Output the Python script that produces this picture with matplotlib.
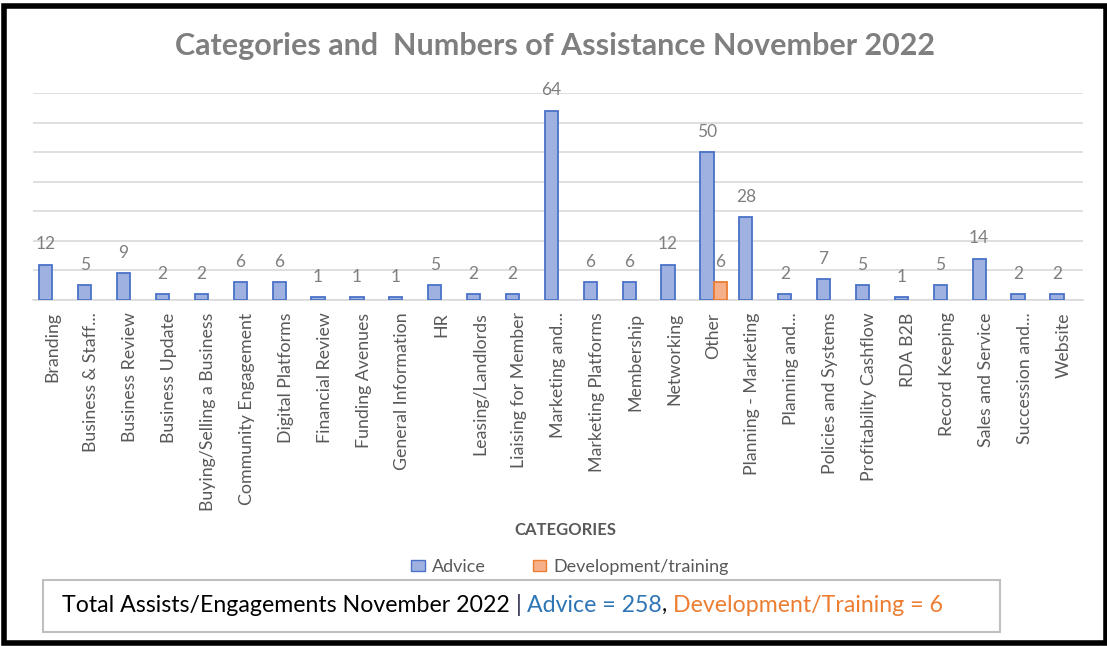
import matplotlib
matplotlib.use("Agg")
import matplotlib.pyplot as plt
import numpy as np
from matplotlib.patches import Rectangle, Patch

plt.rcParams['font.family'] = ['Lato', 'DejaVu Sans']

categories = ["Branding", "Business & Staff...", "Business Review", "Business Update",
              "Buying/Selling a Business", "Community Engagement", "Digital Platforms",
              "Financial Review", "Funding Avenues", "General Information", "HR",
              "Leasing/Landlords", "Liaising for Member", "Marketing and...",
              "Marketing Platforms", "Membership", "Networking", "Other",
              "Planning - Marketing", "Planning and...", "Policies and Systems",
              "Profitability Cashflow", "RDA B2B", "Record Keeping", "Sales and Service",
              "Succession and...", "Website"]
advice = [12, 5, 9, 2, 2, 6, 6, 1, 1, 1, 5, 2, 2, 64, 6, 6, 12, 50, 28, 2, 7, 5, 1, 5, 14, 2, 2]
development = [0, 0, 0, 0, 0, 0, 0, 0, 0, 0, 0, 0, 0, 0, 0, 0, 0, 6, 0, 0, 0, 0, 0, 0, 0, 0, 0]
series_names = ["Advice", "Development/training"]
title = "Categories and  Numbers of Assistance November 2022"
summary = [("Total Assists/Engagements November 2022 ", "black"),
           ("| ", "#2b2b4b"),
           ("Advice = 258", "#2E75B6"),
           (", ", "black"),
           ("Development/Training = 6", "#ED7D31")]

W, H = 1107, 646
fig = plt.figure(figsize=(W / 100, H / 100), dpi=100)
fig.patch.set_facecolor("white")

ax = fig.add_axes([33 / W, 1 - 300 / H, (1083 - 33) / W, (300 - 93) / H])
x = np.arange(len(categories))
w = 0.34
adv_fill, adv_edge = "#9fb1e0", "#4a72c8"
dev_fill, dev_edge = "#f5b089", "#ed7d31"
b1 = ax.bar(x - w / 2, advice, w, color=adv_fill, edgecolor=adv_edge, linewidth=1.3, zorder=3)
dev = np.array(development)
mask = dev > 0
b2 = ax.bar((x + w / 2)[mask], dev[mask], w, color=dev_fill, edgecolor=dev_edge, linewidth=1.3, zorder=3)
ax.bar_label(b1, padding=9, fontsize=12.5, color="#7f7f7f")
ax.bar_label(b2, padding=9, fontsize=12.5, color="#7f7f7f")

ax.set_xlim(-0.5, len(categories) - 0.5)
ax.set_ylim(0, 70)
ax.set_yticks(np.arange(0, 71, 10))
ax.yaxis.grid(True, color="#d9d9d9", linewidth=1.2, zorder=0)
ax.tick_params(axis="y", left=False, labelleft=False)
for s in ["top", "right", "left"]:
    ax.spines[s].set_visible(False)
ax.spines["bottom"].set_color("#d9d9d9")
ax.spines["bottom"].set_linewidth(1.2)
ax.set_xticks(x)
ax.set_xticklabels(categories, rotation=90, fontsize=12.8, color="#595959", va="top")
ax.tick_params(axis="x", length=0, pad=9)
ax.set_xlabel("CATEGORIES", fontsize=12, fontweight="bold", color="#595959")
ax.xaxis.set_label_coords((565 - 33) / (1083 - 33), -(522 - 300) / (300 - 93))

fig.text(555 / W, 1 - 46 / H, title, ha="center", va="center", fontsize=22,
         fontweight="bold", color="#7f7f7f")

handles = [Patch(facecolor=adv_fill, edgecolor=adv_edge), Patch(facecolor=dev_fill, edgecolor=dev_edge)]
fig.legend(handles, series_names, loc="center", bbox_to_anchor=(570 / W, 1 - 567 / H), ncol=2,
           frameon=False, fontsize=13, labelcolor="#595959", handlelength=0.75, handleheight=0.5,
           handletextpad=0.4, columnspacing=2.6)

# summary box
fig.patches.append(Rectangle((43 / W, 1 - 632 / H), (1000 - 43) / W, (632 - 580) / H,
                             transform=fig.transFigure, fill=False, edgecolor="#bfbfbf", linewidth=1.5))
renderer = fig.canvas.get_renderer()
xpos = 62
for txt, col in summary:
    t = fig.text(xpos / W, 1 - 612 / H, txt, ha="left", va="baseline", fontsize=16.7, color=col)
    bb = t.get_window_extent(renderer=renderer)
    xpos = bb.x1

# outer frame
fig.patches.append(Rectangle((3.5 / W, 1 - 642.5 / H), (1105.5 - 3.5) / W, (642.5 - 5.5) / H,
                             transform=fig.transFigure, fill=False, edgecolor="black", linewidth=4))

fig.savefig("out.png", dpi=100)
